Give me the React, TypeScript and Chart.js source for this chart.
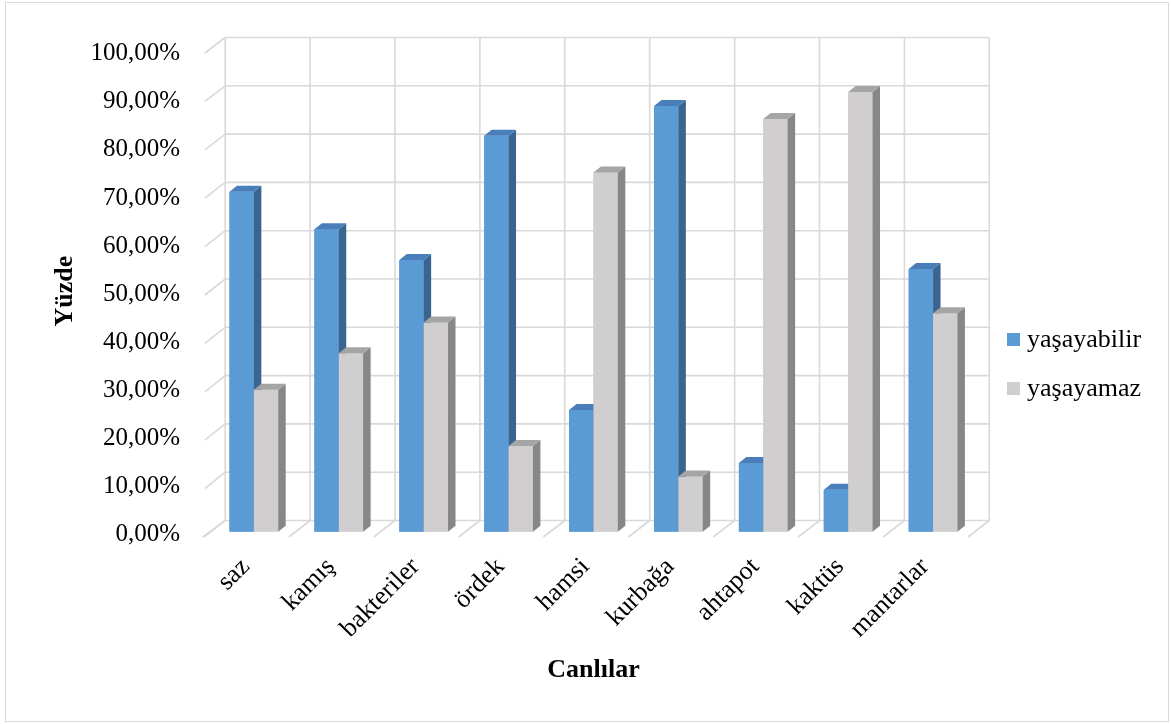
import React, { useEffect, useRef } from "react";
import { Chart, registerables } from "chart.js";

Chart.register(...registerables);

const categories = ["saz", "kamış", "bakteriler", "ördek", "hamsi", "kurbağa", "ahtapot", "kaktüs", "mantarlar"];
const yasayabilir = [70.7, 62.9, 56.5, 82.3, 25.3, 88.5, 14.3, 8.7, 54.6];
const yasayamaz = [29.5, 37.1, 43.5, 17.8, 74.7, 11.5, 85.8, 91.4, 45.4];
const seriesNames = ["yaşayabilir", "yaşayamaz"];
const yTicks = [0, 10, 20, 30, 40, 50, 60, 70, 80, 90, 100];

const SERIF = "'Liberation Serif', 'Times New Roman', serif";

// face colours for the extruded columns: [front, top, side]
const faceColors = [
  ["#5b9bd5", "#4a7ebb", "#3b6591"],
  ["#d0cece", "#a5a5a5", "#878787"],
];
const GRID = "#d9d9d9";

// depth offsets relative to the plane the columns stand on
const BAR_DX = 7.5;
const BAR_DY = -6;
const BACK_DX = 13.8;
const FRONT_DX = -7.5;

function backDy(v: number) {
  return -11.2 - (2 * v) / 100;
}
function frontDy(v: number) {
  return 5.3 - (3 * v) / 100;
}

const walls3d = {
  id: "walls3d",
  beforeDraw(chart: any) {
    const ctx = chart.ctx;
    ctx.save();
    ctx.fillStyle = "#ffffff";
    ctx.fillRect(0, 0, chart.width, chart.height);
    ctx.strokeStyle = GRID;
    ctx.lineWidth = 1;
    ctx.strokeRect(5.5, 2.5, chart.width - 8, chart.height - 5);
    ctx.restore();
  },
  beforeDatasetsDraw(chart: any) {
    const ctx = chart.ctx;
    const xs = chart.scales.x;
    const ys = chart.scales.y;
    const area = chart.chartArea;
    const n = categories.length;
    const step = (area.right - area.left) / n;
    ctx.save();
    ctx.strokeStyle = GRID;
    ctx.lineWidth = 1.6;
    // back wall: horizontal lines and side-wall diagonals
    for (const v of yTicks) {
      const y = ys.getPixelForValue(v);
      ctx.beginPath();
      ctx.moveTo(area.left + BACK_DX, y + backDy(v));
      ctx.lineTo(area.right + BACK_DX, y + backDy(v));
      ctx.stroke();
      ctx.beginPath();
      ctx.moveTo(area.left + FRONT_DX + (v === 0 ? -1 : 1), y + frontDy(v));
      ctx.lineTo(area.left + BACK_DX, y + backDy(v));
      ctx.stroke();
    }
    // back wall verticals and floor diagonals at category boundaries
    const y0 = ys.getPixelForValue(0);
    const y100 = ys.getPixelForValue(100);
    for (let i = 0; i <= n; i++) {
      const bx = i === n ? area.right : xs.getPixelForValue(i) - step / 2;
      ctx.beginPath();
      ctx.moveTo(bx + BACK_DX, y0 + backDy(0));
      ctx.lineTo(bx + BACK_DX, y100 + backDy(100));
      ctx.stroke();
      ctx.beginPath();
      ctx.moveTo(bx + FRONT_DX, y0 + frontDy(0));
      ctx.lineTo(bx + BACK_DX, y0 + backDy(0));
      ctx.stroke();
    }
    ctx.restore();
  },
  afterDatasetsDraw(chart: any) {
    // repaint the columns series by series so each one's depth faces
    // sit behind the next series' front faces
    const ctx = chart.ctx;
    const area = chart.chartArea;
    chart.data.datasets.forEach((_ds: any, di: number) => {
      const meta = chart.getDatasetMeta(di);
      const colors = faceColors[di];
      meta.data.forEach((bar: any) => {
        bar.draw(ctx, area);
        const { x, y, base, width } = bar.getProps(["x", "y", "base", "width"], true);
        const l = x - width / 2;
        const r = x + width / 2;
        ctx.save();
        // side face
        ctx.fillStyle = colors[2];
        ctx.beginPath();
        ctx.moveTo(r, y);
        ctx.lineTo(r + BAR_DX, y + BAR_DY);
        ctx.lineTo(r + BAR_DX, base + BAR_DY);
        ctx.lineTo(r, base);
        ctx.closePath();
        ctx.fill();
        // top face
        ctx.fillStyle = colors[1];
        ctx.beginPath();
        ctx.moveTo(l, y);
        ctx.lineTo(l + BAR_DX, y + BAR_DY);
        ctx.lineTo(r + BAR_DX, y + BAR_DY);
        ctx.lineTo(r, y);
        ctx.closePath();
        ctx.fill();
        ctx.restore();
      });
    });
  },
  afterDraw(chart: any) {
    // legend to the right of the plot
    const ctx = chart.ctx;
    ctx.save();
    ctx.font = `26px ${SERIF}`;
    ctx.textBaseline = "alphabetic";
    ctx.textAlign = "left";
    chart.data.datasets.forEach((ds: any, i: number) => {
      const top = 333 + i * 49;
      ctx.fillStyle = ds.backgroundColor;
      ctx.fillRect(1007, top, 13, 13);
      ctx.fillStyle = "#000000";
      ctx.fillText(ds.label, 1027, top + 14);
    });
    ctx.restore();
  },
};

export default function App() {
  const canvasRef = useRef<HTMLCanvasElement | null>(null);

  useEffect(() => {
    document.body.style.margin = "0";
    const canvas = canvasRef.current;
    if (!canvas) return;
    const chart = new Chart(canvas, {
      type: "bar",
      data: {
        labels: categories,
        datasets: [
          {
            label: seriesNames[0],
            data: yasayabilir,
            backgroundColor: faceColors[0][0],
            borderWidth: 0,
            barPercentage: 1,
            categoryPercentage: 0.574,
          },
          {
            label: seriesNames[1],
            data: yasayamaz,
            backgroundColor: faceColors[1][0],
            borderWidth: 0,
            barPercentage: 1,
            categoryPercentage: 0.574,
          },
        ],
      },
      options: {
        animation: false,
        responsive: true,
        maintainAspectRatio: false,
        layout: { padding: { left: 0, right: 195.5, top: 50.7, bottom: 0 } },
        plugins: {
          legend: { display: false },
          tooltip: { enabled: false },
        },
        scales: {
          x: {
            grid: { display: false },
            border: { display: false },
            ticks: {
              autoSkip: false,
              minRotation: 45,
              maxRotation: 45,
              padding: 12,
              labelOffset: -8,
              color: "#000000",
              font: { family: SERIF, size: 26 },
            },
            title: {
              display: true,
              text: "Canlılar",
              color: "#000000",
              font: { family: SERIF, size: 26, weight: "bold" },
              padding: { top: 0, bottom: 38.4 },
            },
            afterFit: (scale: any) => {
              scale.height = 192.3;
            },
          },
          y: {
            min: 0,
            max: 100,
            grid: { display: false, drawTicks: false },
            border: { display: false },
            ticks: {
              stepSize: 10,
              padding: 31.4,
              labelOffset: 3,
              color: "#000000",
              font: { family: SERIF, size: 25 },
              callback: (v: any) => `${Number(v).toFixed(2).replace(".", ",")}%`,
            },
            title: {
              display: true,
              text: "Yüzde",
              color: "#000000",
              font: { family: SERIF, size: 26, weight: "bold" },
              padding: { top: 49.4, bottom: 0 },
            },
            afterFit: (scale: any) => {
              scale.width = 211.4;
            },
          },
        },
      } as any,
      plugins: [walls3d],
    });
    return () => chart.destroy();
  }, []);

  return (
    <div style={{ width: 1171, height: 724, position: "relative" }}>
      <canvas ref={canvasRef} />
    </div>
  );
}
